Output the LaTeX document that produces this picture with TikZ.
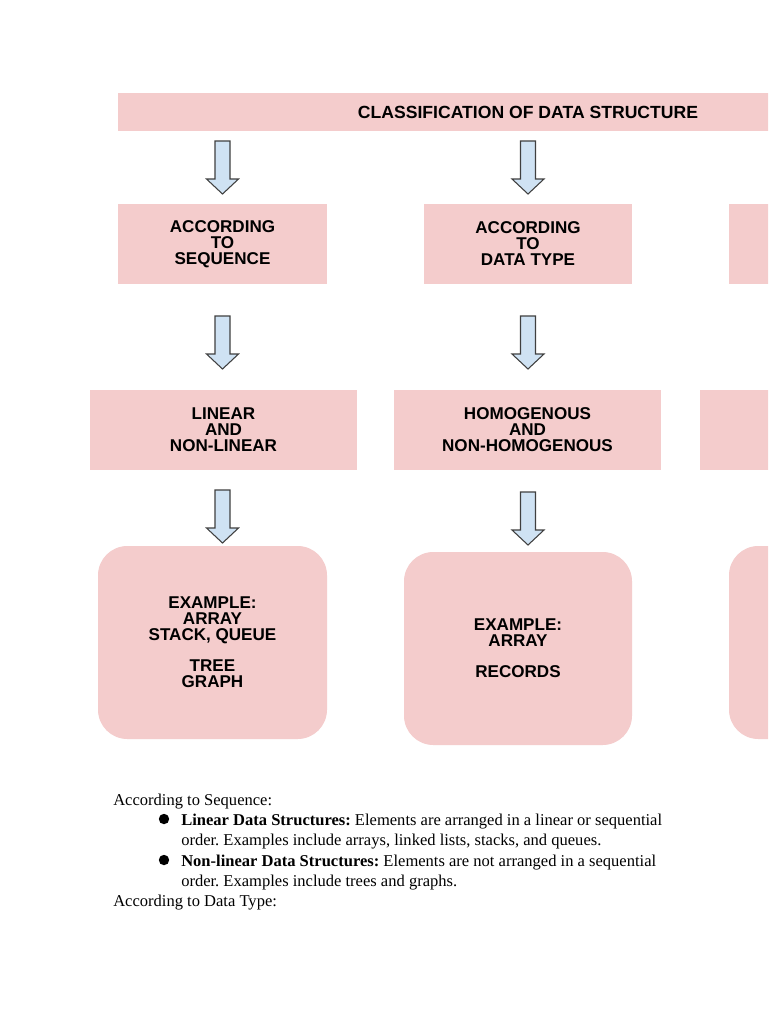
\documentclass[tikz,border=0pt]{standalone}
\usepackage{fontspec}
\setmainfont{Liberation Serif}
\setsansfont{Liberation Sans}
\definecolor{pinkbox}{HTML}{F4CCCC}
\definecolor{arrowfill}{HTML}{CFE2F3}
\definecolor{arrowline}{HTML}{404040}
\tikzset{
  box/.style={fill=pinkbox, inner sep=0pt, align=center,
    font=\sffamily\bfseries\fontsize{12.8}{12}\selectfont},
  rbox/.style={box, rounded corners=22pt},
  body/.style={anchor=base west, inner sep=0pt, font=\frenchspacing\fontsize{12.4}{14}\selectfont},
  blockarrow/.pic={\draw[fill=arrowfill, draw=arrowline, line width=0.8pt, line join=miter]
    (-7.5,0) -- (7.5,0) -- (7.5,38) -- (16,38) -- (0,53) -- (-16,38) -- (-7.5,38) -- cycle;}
}
\begin{document}
\begin{tikzpicture}[x=0.75pt,y=-0.75pt]
\clip (0,0) rectangle (768,1024);
\fill[white] (0,0) rectangle (768,1024);
% top banner
\node[box, font=\sffamily\bfseries\fontsize{13.2}{12}\selectfont, minimum width=820*0.75pt, minimum height=38*0.75pt] (top) at (528,112) {CLASSIFICATION OF DATA STRUCTURE};
% row 2
\node[box, minimum width=209*0.75pt, minimum height=80*0.75pt] (seq) at (222.5,244) {ACCORDING\\TO\\SEQUENCE};
\node[box, minimum width=208*0.75pt, minimum height=80*0.75pt] (dtype) at (528,244) {ACCORDING\\TO\\DATA TYPE};
\node[box, minimum width=208*0.75pt, minimum height=80*0.75pt] (third) at (833,244) {};
% row 3
\node[box, minimum width=267*0.75pt, minimum height=80*0.75pt] (lin) at (223.5,430) {LINEAR\\AND\\NON-LINEAR};
\node[box, minimum width=267*0.75pt, minimum height=80*0.75pt] (homo) at (527.5,430) {HOMOGENOUS\\AND\\NON-HOMOGENOUS};
\node[box, minimum width=267*0.75pt, minimum height=80*0.75pt] (thirdb) at (833.5,430) {};
% row 4
\node[rbox, minimum width=229*0.75pt, minimum height=193*0.75pt] (ex1) at (212.5,642.5) {EXAMPLE:\\ARRAY\\STACK, QUEUE\\[11pt]TREE\\GRAPH};
\node[rbox, minimum width=228*0.75pt, minimum height=193*0.75pt] (ex2) at (518,648.5) {EXAMPLE:\\ARRAY\\[11pt]RECORDS};
\node[rbox, minimum width=229*0.75pt, minimum height=193*0.75pt] (ex3) at (843.5,642.5) {};
% arrows
\pic at (222.5,141) {blockarrow};
\pic at (528,141) {blockarrow};
\pic at (222.5,316) {blockarrow};
\pic at (528,316) {blockarrow};
\pic at (222.5,490) {blockarrow};
\pic at (528,492) {blockarrow};
% bottom text
\node[body] (h1) at (113,805) {According to Sequence:};
\fill (164,819) circle (5.2);
\node[body] (l1) at (181,825) {\textbf{Linear Data Structures:} Elements are arranged in a linear or sequential};
\node[body] (l2) at (181,845) {order. Examples include arrays, linked lists, stacks, and queues.};
\fill (164,860) circle (5.2);
\node[body] (l3) at (181,866) {\textbf{Non-linear Data Structures:} Elements are not arranged in a sequential};
\node[body] (l4) at (181,886) {order. Examples include trees and graphs.};
\node[body] (h2) at (113,906) {According to Data Type:};
\end{tikzpicture}
\end{document}
